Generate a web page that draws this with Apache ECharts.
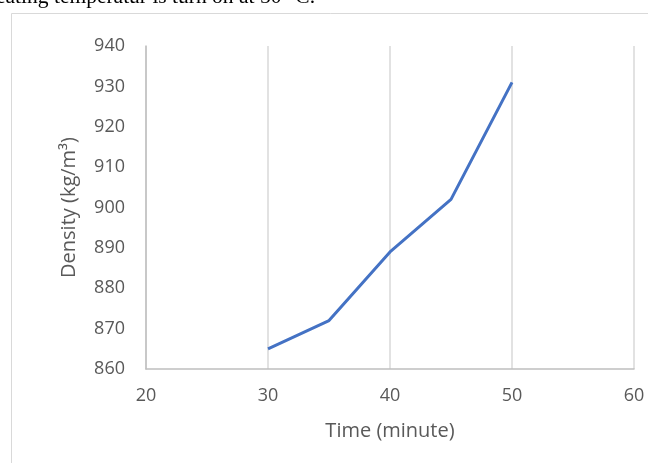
<!DOCTYPE html>
<html><head><meta charset="utf-8">
<script src="https://cdn.jsdelivr.net/npm/echarts@6/dist/echarts.min.js"></script>
<style>html,body{margin:0;padding:0;background:#fff}#c{width:648px;height:463px}</style>
</head><body><div id="c"></div>
<script>
var timeValues = [30, 35, 40, 45, 50];
var densityValues = [865, 872, 889, 902, 931];
var xTicks = [20, 30, 40, 50, 60];
var yTicks = [860, 870, 880, 890, 900, 910, 920, 930, 940];
var xTitle = 'Time (minute)';
var yTitle = 'Density (kg/m³)';
var topText = 'eating temperatur is turn on at 50 °C.';

var chart = echarts.init(document.getElementById('c'), null, {renderer: 'canvas'});
var font = '"Open Sans", "Noto Sans", sans-serif';
chart.setOption({
  animation: false,
  backgroundColor: '#fff',
  graphic: [
    {type: 'rect', shape: {x: 11.5, y: 13.5, width: 700, height: 500}, style: {fill: 'none', stroke: '#d9d9d9', lineWidth: 1}, z: -1},
    {type: 'text', x: -4, y: 8, style: {text: topText, font: '21.5px "Liberation Serif", "Times New Roman", serif', fill: '#000', textVerticalAlign: 'bottom'}}
  ],
  grid: {left: 146, right: 14, top: 46, bottom: 94},
  xAxis: {
    type: 'value', min: xTicks[0], max: xTicks[xTicks.length - 1], interval: 10,
    name: xTitle, nameLocation: 'middle', nameGap: 52,
    nameTextStyle: {fontFamily: font, fontSize: 20, color: '#595959'},
    axisLine: {show: true, lineStyle: {color: '#bfbfbf', width: 1.5}},
    axisTick: {show: false},
    axisLabel: {fontFamily: font, fontSize: 18, color: '#595959', margin: 18},
    splitLine: {show: true, lineStyle: {color: '#d9d9d9', width: 1.5}}
  },
  yAxis: {
    type: 'value', min: yTicks[0], max: yTicks[yTicks.length - 1], interval: 10,
    name: yTitle, nameLocation: 'middle', nameGap: 67, nameRotate: 90,
    nameTextStyle: {fontFamily: font, fontSize: 20, color: '#595959'},
    axisLine: {show: true, lineStyle: {color: '#bfbfbf', width: 1.5}},
    axisTick: {show: false},
    axisLabel: {fontFamily: font, fontSize: 18, color: '#595959', margin: 21},
    splitLine: {show: false}
  },
  series: [{
    type: 'line',
    data: timeValues.map(function (t, i) { return [t, densityValues[i]]; }),
    symbol: 'none',
    lineStyle: {color: '#4472C4', width: 3},
    itemStyle: {color: '#4472C4'}
  }]
});
</script></body></html>
